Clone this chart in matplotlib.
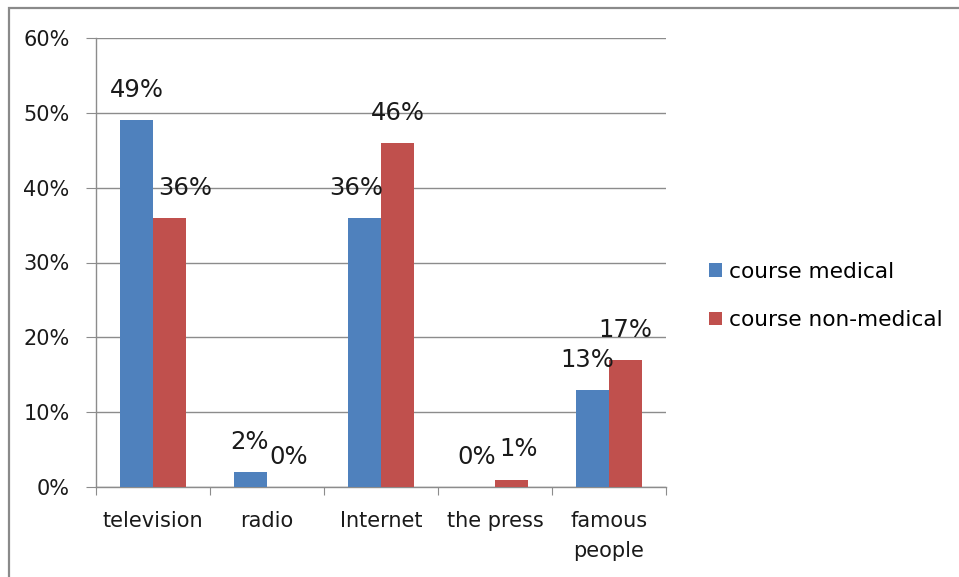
import matplotlib
matplotlib.use("Agg")
import matplotlib.pyplot as plt
from matplotlib.patches import Rectangle
import numpy as np

categories = ["television", "radio", "Internet", "the press", "famous\npeople"]
medical = [49, 2, 36, 0, 13]
non_medical = [36, 0, 46, 1, 17]
series_names = ["course medical", "course non-medical"]
y_ticks = [0, 10, 20, 30, 40, 50, 60]

# horizontal nudges (points) for the value labels, so neighbours do not collide
dx_medical = [0, -1, -6, -1, -4]
dx_non_medical = [11, 4, 0, 5, 0]

BLUE = "#4F81BD"
RED = "#C0504D"
GRID = "#8C8C8C"
TEXT = "#1A1A1A"

plt.rcParams["font.family"] = ["DejaVu Sans"]

fig = plt.figure(figsize=(9.59, 5.77), dpi=100)
fig.patches.append(Rectangle((9 / 959, -0.1), 2.0, 1 - 8 / 577 + 0.1,
                             transform=fig.transFigure, fill=False,
                             edgecolor="#8A8A8A", linewidth=1.6))

ax = fig.add_axes([96 / 959, 90 / 577, (666 - 96) / 959, (487 - 38) / 577])

x = np.arange(len(categories))
w = 0.29
b1 = ax.bar(x - w / 2, medical, w, color=BLUE, zorder=3)
b2 = ax.bar(x + w / 2, non_medical, w, color=RED, zorder=3)

for rect, v, dx in zip(b1, medical, dx_medical):
    ax.annotate(f"{v}%", (rect.get_x() + rect.get_width() / 2, v),
                xytext=(dx, 13), textcoords="offset points",
                ha="center", va="bottom", fontsize=17.5, color=TEXT, zorder=4)
for rect, v, dx in zip(b2, non_medical, dx_non_medical):
    ax.annotate(f"{v}%", (rect.get_x() + rect.get_width() / 2, v),
                xytext=(dx, 13), textcoords="offset points",
                ha="center", va="bottom", fontsize=17.5, color=TEXT, zorder=4)

ax.set_xlim(-0.5, len(categories) - 0.5)
ax.set_ylim(0, 60)
ax.set_yticks(y_ticks)
ax.set_yticklabels([f"{t}%" for t in y_ticks])
ax.yaxis.grid(True, color=GRID, linewidth=1.0, zorder=0)

ax.set_xticks(np.arange(len(categories) + 1) - 0.5)
ax.set_xticklabels([])
ax.set_xticks(x, minor=True)
ax.set_xticklabels(categories, minor=True, fontsize=15, color=TEXT,
                   linespacing=1.65)
ax.tick_params(axis="x", which="major", length=6, color=GRID, direction="out")
ax.tick_params(axis="x", which="minor", length=0, pad=17)
ax.tick_params(axis="y", length=7, color=GRID, pad=12, labelsize=15,
               labelcolor=TEXT)

for s in ["top", "right"]:
    ax.spines[s].set_visible(False)
for s in ["left", "bottom"]:
    ax.spines[s].set_color(GRID)
    ax.spines[s].set_linewidth(1.0)

fig.legend([b1, b2], series_names, loc="center left",
           bbox_to_anchor=(709 / 959, 1 - 296 / 577), frameon=False,
           fontsize=15.6, borderpad=0, handlelength=0.6, handleheight=0.6,
           handletextpad=0.33, labelspacing=1.3, borderaxespad=0)

fig.savefig("out.png", dpi=100)
